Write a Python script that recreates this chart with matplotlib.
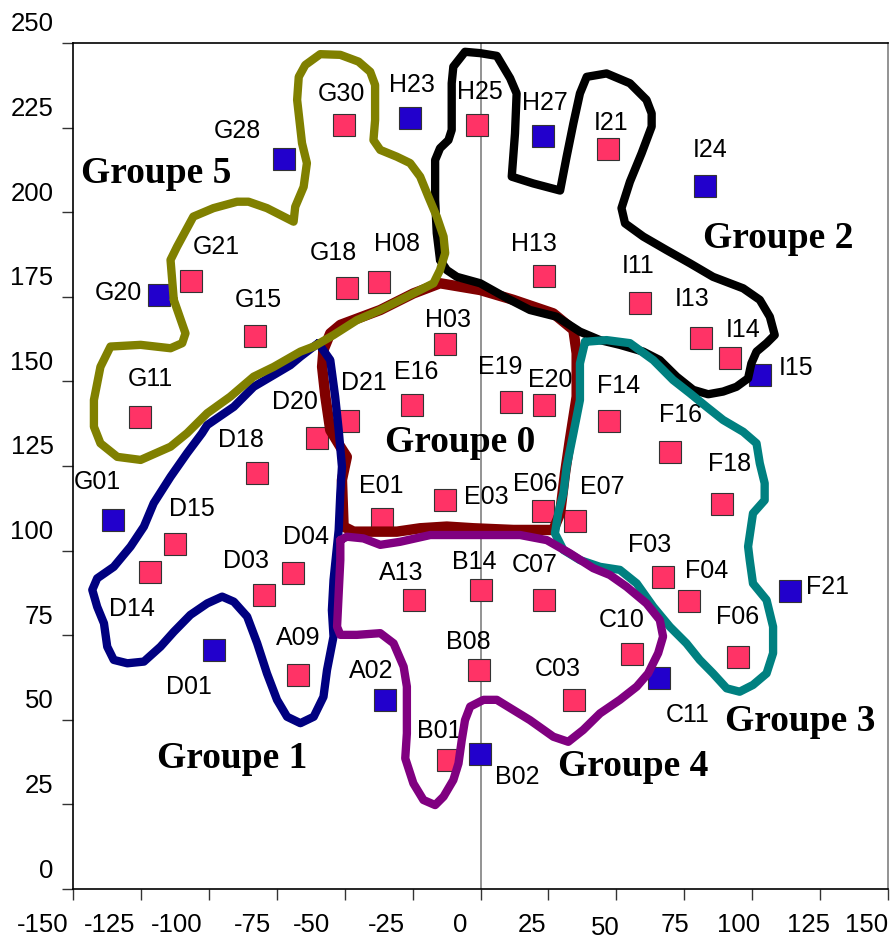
import matplotlib
matplotlib.use('Agg')
import matplotlib.pyplot as plt
from matplotlib.transforms import ScaledTranslation

plt.rcParams['font.family'] = ['Liberation Sans', 'DejaVu Sans']

# ---------------- data ----------------
names = ['G28', 'G20', 'G21', 'G15', 'G11', 'G01', 'D18', 'D15', 'D14', 'D03',
         'D04', 'D01', 'A09', 'A02', 'A13', 'B14', 'C07', 'B08', 'C03', 'B01',
         'B02', 'C10', 'C11', 'F04', 'F03', 'F06', 'F21', 'F18', 'F16', 'F14',
         'I15', 'I14', 'I13', 'I11', 'I21', 'I24', 'H27', 'H25', 'H23', 'G30',
         'H13', 'H08', 'G18', 'H03', 'E16', 'E19', 'E20', 'D21', 'D20', 'E01',
         'E03', 'E06', 'E07']
xs = [-72.3, -118.2, -106.5, -83.1, -125.4, -135.3, -82.1, -112.5, -121.7, -79.6,
      -69.2, -98.2, -67.2, -35.0, -24.5, 0.0, 23.3, -0.5, 34.3, -12.0,
      -0.1, 55.7, 65.7, 76.8, 67.0, 94.7, 113.9, 88.8, 69.7, 47.4,
      102.9, 91.9, 81.0, 58.7, 47.0, 82.7, 22.9, -1.25, -25.8, -50.1,
      23.3, -37.3, -49.2, -13.0, -25.3, 11.3, 23.5, -48.7, -60.1, -36.2,
      -12.9, 23.1, 34.8]
ys = [215.8, 175.4, 179.8, 163.4, 139.6, 109.1, 122.9, 101.9, 93.8, 86.8,
      93.4, 70.7, 63.1, 55.8, 85.5, 88.4, 85.5, 64.8, 55.8, 38.0,
      39.9, 69.5, 62.4, 85.0, 92.3, 68.6, 88.1, 113.9, 129.0, 138.4,
      151.8, 156.8, 162.7, 173.2, 218.7, 207.7, 222.5, 225.7, 227.7, 225.9,
      181.1, 179.5, 177.6, 161.1, 143.0, 143.9, 143.0, 138.4, 133.2, 109.2,
      115.1, 111.7, 108.8]
blue_names = ['G28', 'G20', 'G01', 'D01', 'A02', 'B02', 'C11', 'F21', 'I15',
              'I24', 'H27', 'H23']

group_names = ['Groupe 0', 'Groupe 1', 'Groupe 2', 'Groupe 3', 'Groupe 4', 'Groupe 5']
group_label_x = [-7.5, -91.4, 109.5, 117.6, 56.2, -119.3]
group_label_y = [131.9, 38.6, 192.3, 49.4, 36.1, 211.5]

g0_x = [-57.8, -58.3, -57.1, -55.3, -51.6, -49.2, -51.0, -50.4, -46.7, -30.8, -22.2,
        -12.4, -2.6, 12.1, 26.8, 29.3, 31.1, 32.9, 35.4, 35.4, 34.2, 26.8, 12.1,
        -0.1, -14.9, -24.7, -36.9, -51.6, -55.3, -57.8]
g0_y = [159.3, 154.3, 145.5, 135.6, 130.7, 127.7, 120.9, 107.1, 105.6, 105.6, 106.6,
        107.1, 106.6, 106.1, 106.1, 111.0, 122.8, 132.7, 145.5, 158.3, 165.2, 170.1,
        174.1, 177.0, 179.0, 176.0, 171.1, 166.7, 164.2, 159.3]

g1_x = [-59.7, -55.3, -53.5, -52.2, -51.0, -51.6, -52.2, -54.1, -54.7, -54.1, -56.5,
        -57.8, -61.4, -66.3, -71.2, -74.9, -78.6, -82.2, -85.9, -90.8, -95.1, -100.6,
        -106.8, -112.9, -117.8, -123.9, -130.0, -135.0, -137.4, -138.6, -141.1, -142.9,
        -141.1, -135.0, -128.8, -123.9, -120.3, -114.1, -108.0, -102.5, -100.6, -90.8,
        -83.5, -76.1, -70.0, -66.3, -61.4, -59.7]
g1_y = [161.3, 156.3, 145.5, 135.6, 124.8, 116.9, 106.1, 91.3, 82.4, 74.6, 64.7,
        56.8, 50.9, 49.0, 50.9, 55.9, 63.7, 72.6, 80.5, 84.9, 86.4, 84.4,
        81.0, 76.0, 71.6, 67.2, 66.7, 67.7, 71.6, 78.5, 83.4, 88.4,
        91.8, 95.2, 101.2, 107.1, 114.0, 121.8, 128.8, 134.7, 137.1, 142.5,
        148.4, 151.9, 154.8, 157.3, 160.3, 161.3]

g2_x = [-14.9, -16.1, -16.7, -16.7, -14.9, -11.8, -10.6, -10.6, -10.0, -5.7, -0.1,
        6.0, 10.9, 13.3, 12.7, 11.5, 19.4, 29.3, 31.7, 34.2, 36.6, 39.1, 46.4, 55.0,
        61.1, 63.0, 63.0, 59.3, 55.0, 51.9, 53.2, 59.9, 68.5, 77.1, 85.6, 96.7, 102.8,
        106.5, 108.3, 105.3, 101.6, 99.7, 98.5, 94.2, 89.3, 83.8, 78.3, 72.2, 66.0,
        59.9, 51.3, 44.0, 36.6, 28.1, 18.2, 9.7, -0.1, -8.7, -12.4, -14.9]
g2_y = [185.9, 193.8, 203.6, 215.4, 218.9, 221.3, 224.3, 238.1, 243.0, 247.4, 247.0,
        246.2, 239.6, 235.1, 223.3, 210.5, 208.5, 206.4, 216.4, 226.3, 235.1, 240.0,
        241.0, 238.1, 233.2, 229.2, 225.3, 217.4, 209.0, 201.2, 196.7, 192.8, 188.8,
        184.9, 180.9, 177.5, 174.1, 169.1, 163.7, 161.3, 158.8, 155.3, 150.9, 148.4,
        147.0, 146.2, 147.5, 151.4, 156.3, 158.8, 160.8, 162.2, 164.7, 169.1, 171.1,
        174.6, 179.0, 180.9, 182.9, 185.9]

g3_x = [38.5, 36.6, 36.6, 34.2, 31.7, 30.5, 28.6, 27.4, 30.5, 36.6, 44.0, 51.3, 57.5,
        63.6, 69.7, 75.8, 80.7, 85.6, 90.6, 95.4, 100.3, 105.3, 107.7, 107.7, 105.3,
        100.3, 99.1, 98.5, 100.3, 104.6, 104.6, 102.8, 101.6, 96.7, 89.3, 83.2, 77.1,
        70.9, 63.6, 55.0, 46.4, 38.5]
g3_y = [161.7, 155.3, 144.5, 134.7, 124.8, 116.9, 111.0, 105.1, 100.2, 97.2, 95.2,
        94.3, 90.3, 83.4, 77.5, 72.6, 67.7, 63.7, 59.3, 58.3, 60.3, 63.7, 69.7, 77.5,
        85.4, 90.3, 97.2, 101.2, 111.0, 114.9, 119.9, 125.8, 131.7, 135.1, 138.6,
        142.5, 146.5, 150.4, 156.3, 161.3, 162.2, 161.7]

g4_x = [-51.6, -49.2, -43.1, -36.9, -29.6, -18.5, -0.1, 14.6, 24.4, 32.9, 41.5, 47.6,
        53.8, 61.1, 66.0, 67.2, 65.4, 61.7, 57.5, 51.3, 44.0, 37.8, 32.3, 26.8, 18.2,
        12.1, 6.0, 1.1, -3.8, -5.7, -6.9, -8.1, -10.0, -13.6, -16.7, -21.0, -24.7,
        -27.7, -27.1, -27.1, -28.3, -32.0, -36.9, -45.5, -51.6, -52.8, -52.2, -51.6,
        -51.6]
g4_y = [103.1, 104.1, 103.6, 101.7, 102.6, 104.6, 104.6, 104.6, 103.1, 99.2, 94.8,
        92.8, 89.3, 84.4, 79.5, 74.6, 69.7, 63.7, 59.8, 55.9, 51.9, 47.0, 43.5, 45.0,
        49.9, 52.9, 55.9, 55.9, 53.9, 49.9, 44.0, 37.1, 32.2, 27.3, 24.8, 26.3, 31.2,
        38.6, 46.0, 59.8, 65.7, 72.6, 75.6, 75.1, 75.1, 77.5, 87.4, 97.2, 103.1]

g5_x = [-112.9, -114.1, -111.7, -105.7, -98.3, -89.6, -85.4, -78.6, -68.8, -68.2,
        -65.1, -63.9, -65.7, -67.5, -66.9, -64.5, -59.0, -51.6, -44.9, -40.6, -38.8,
        -38.8, -39.4, -36.9, -30.8, -25.9, -22.2, -19.2, -16.1, -13.6, -13.0, -14.9,
        -17.3, -24.7, -36.9, -45.5, -54.1, -61.4, -66.3, -76.1, -83.5, -92.1, -100.6,
        -108.0, -114.1, -125.1, -133.7, -139.9, -142.3, -142.3, -139.9, -136.2,
        -125.1, -114.1, -109.8, -108.6, -112.9]
g5_y = [174.1, 185.9, 189.8, 198.7, 201.2, 203.1, 203.1, 201.2, 197.2, 201.6,
        207.5, 214.5, 220.4, 233.2, 240.0, 243.5, 246.7, 246.5, 244.5, 241.5, 237.6,
        227.2, 221.3, 218.4, 216.4, 214.5, 210.5, 204.6, 198.7, 192.8, 187.9, 182.9,
        179.0, 176.0, 171.1, 168.1, 163.7, 160.3, 158.8, 154.3, 151.4, 145.5, 140.6,
        134.7, 130.7, 126.8, 127.7, 131.7, 136.6, 144.5, 154.3, 160.3,
        160.8, 159.8, 161.3, 164.2, 174.1]

x_ticks = [-150, -125, -100, -75, -50, -25, 0, 25, 50, 75, 100, 125, 150]
y_ticks = [0, 25, 50, 75, 100, 125, 150, 175, 200, 225, 250]

# ---------------- layout / style ----------------
label_offsets = {  # pixels (dx, dy up)
    'G28': (-47, 28), 'G20': (-41, 2), 'G21': (25, 34), 'G15': (4, 36), 'G11': (11, 38),
    'G01': (-16, 38), 'D18': (-17, 33), 'D15': (17, 35), 'D14': (-18, -37),
    'D03': (-18, 34), 'D04': (13, 36), 'D01': (-25, -37), 'A09': (0, 37),
    'A02': (-14, 29), 'A13': (-13, 27), 'B14': (-6, 28), 'C07': (-9, 35),
    'B08': (-11, 28), 'C03': (-16, 31), 'B01': (-9, 29), 'B02': (37, -23),
    'C10': (-10, 34), 'C11': (29, -37), 'F04': (17, 30), 'F03': (-13, 32),
    'F06': (0, 40), 'F21': (38, 4), 'F18': (8, 40), 'F16': (11, 37), 'F14': (9, 35),
    'I15': (36, 7), 'I14': (13, 28), 'I13': (-8, 39), 'I11': (-2, 37), 'I21': (3, 26),
    'I24': (5, 36), 'H27': (2, 33), 'H25': (3, 33), 'H23': (2, 33), 'G30': (-3, 31),
    'H13': (-10, 32), 'H08': (18, 38), 'G18': (-13, 35), 'H03': (3, 24),
    'E16': (4, 33), 'E19': (-11, 35), 'E20': (6, 25), 'D21': (16, 38),
    'D20': (-22, 36), 'E01': (-1, 33), 'E03': (41, 3), 'E06': (-8, 27),
    'E07': (27, 34)}
xtick_label_shift = [-30, -31, -32, -24, -33, -26, -20, -16, -11, -9, -14, -12, -21]
xtick_label_drop = [0, 0, 0, 0, 0, 0, 0, 0, 3, 0, 0, 0, 0]

PINK = '#FF3366'
BLUE = '#2200CC'

fig = plt.figure(figsize=(8.9, 9.4), dpi=100)
ax = fig.add_axes([73 / 890, 51 / 940, 815 / 890, 846 / 940])
ax.set_xlim(-150, 150)
ax.set_ylim(0, 250)

ax.axvline(0, color='#808080', lw=1.2, zorder=1)

# points
for n, x, y in zip(names, xs, ys):
    c = BLUE if n in blue_names else PINK
    ax.plot([x], [y], marker='s', ms=15.5, mfc=c, mec='#333333', mew=0.8,
            ls='none', zorder=3)
    dx, dy = label_offsets[n]
    ax.annotate(n, (x, y), xytext=(dx, dy), textcoords='offset pixels',
                ha='center', va='center', fontsize=18, color='black', zorder=4)

# group outlines
ax.plot(g0_x, g0_y, color='#800000', lw=7.5, solid_joinstyle='round',
        solid_capstyle='round', zorder=5)
outlines = [(g1_x, g1_y, '#000080'), (g2_x, g2_y, '#000000'),
            (g3_x, g3_y, '#008080'), (g4_x, g4_y, '#800080'),
            (g5_x, g5_y, '#808000')]
for gx, gy, col in outlines:
    ax.plot(gx, gy, color=col, lw=6.0, solid_joinstyle='round',
            solid_capstyle='round', zorder=6)

for gn, gx, gy in zip(group_names, group_label_x, group_label_y):
    ax.text(gx, gy, gn, ha='center', va='center', fontsize=27,
            fontweight='bold', family='Liberation Serif', zorder=8)

# axes styling
for s in ['left', 'bottom', 'top']:
    ax.spines[s].set_color('black')
    ax.spines[s].set_linewidth(1.2)
ax.spines['right'].set_color('#808080')
ax.spines['right'].set_linewidth(1.2)

ax.set_xticks(x_ticks)
ax.set_yticks(y_ticks)
ax.set_xticklabels([str(v) for v in x_ticks])
ax.set_yticklabels([str(v) for v in y_ticks])
ax.tick_params(axis='both', direction='out', length=8, width=1.0, labelsize=18.5,
               color='#333333')
ax.tick_params(axis='y', pad=6)
ax.tick_params(axis='x', pad=9)

for tick, sh, dr in zip(ax.xaxis.get_major_ticks(), xtick_label_shift, xtick_label_drop):
    lab = tick.label1
    lab.set_transform(lab.get_transform() +
                      ScaledTranslation(sh / 100, -dr / 100, fig.dpi_scale_trans))
for tick in ax.yaxis.get_major_ticks():
    lab = tick.label1
    lab.set_transform(lab.get_transform() +
                      ScaledTranslation(0, 21 / 100, fig.dpi_scale_trans))

fig.savefig('out.png', dpi=100)
